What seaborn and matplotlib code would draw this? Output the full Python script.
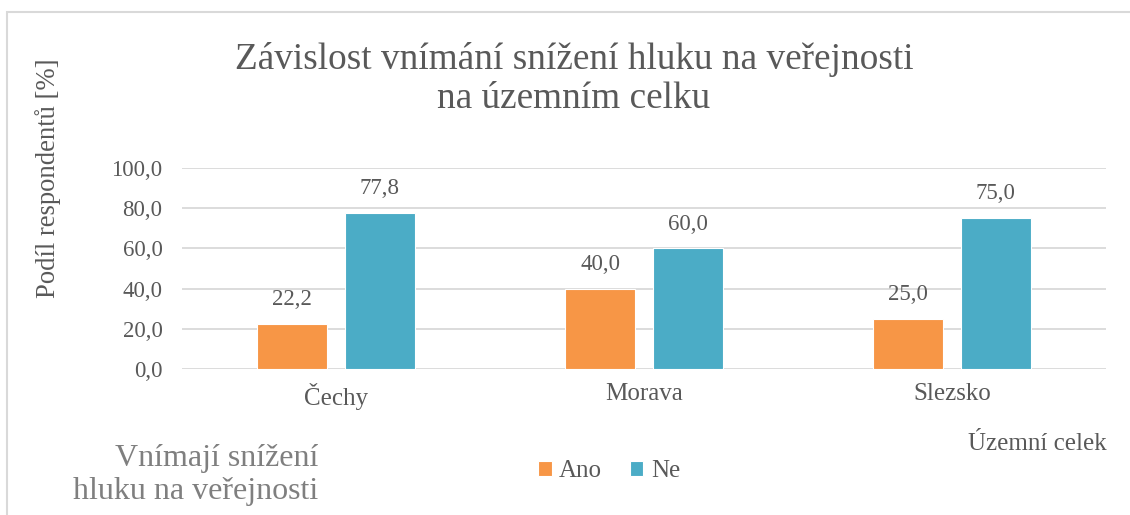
import matplotlib
matplotlib.use("Agg")
import pandas as pd
import seaborn as sns
import matplotlib.pyplot as plt
from matplotlib.patches import Rectangle

regions = ["Čechy", "Morava", "Slezsko"]
answers = ["Ano", "Ne"]
ano = [22.2, 40.0, 25.0]
ne = [77.8, 60.0, 75.0]
yticks = [0, 20, 40, 60, 80, 100]
colors = ["#F79646", "#4BACC6"]

df = pd.DataFrame({
    "region": regions * 2,
    "odpoved": [answers[0]] * 3 + [answers[1]] * 3,
    "podil": ano + ne,
})

sns.set_style("white")
plt.rcParams["font.family"] = ["Liberation Serif", "DejaVu Serif"]
grey = "#595959"
W, H = 1130, 515

fig = plt.figure(figsize=(11.3, 5.15), dpi=100)
ax = fig.add_axes([182 / W, 1 - 369 / H, (1106 - 182) / W, 201 / H])

sns.barplot(data=df, x="region", y="podil", hue="odpoved", palette=colors,
            saturation=1, width=0.57, gap=0.21, edgecolor="white",
            linewidth=0.8, ax=ax)

for cont in ax.containers:
    ax.bar_label(cont, labels=[f"{v:.1f}".replace(".", ",") for v in cont.datavalues],
                 padding=10, fontsize=16.5, color=grey)

ax.set_ylim(0, 100)
ax.set_yticks(yticks)
ax.set_yticklabels([f"{t:.1f}".replace(".", ",") for t in yticks])
ax.set_xlim(-0.5, 2.5)
ax.tick_params(axis="y", length=0, pad=14, labelsize=16.5, labelcolor=grey)
ax.tick_params(axis="x", length=0, pad=10, labelsize=18, labelcolor=grey)
ax.yaxis.grid(True, color="#D9D9D9", linewidth=1.3)
ax.set_axisbelow(True)
for s in ax.spines.values():
    s.set_visible(False)
ax.set_xlabel("")
ax.set_ylabel("")

handles, labels = ax.get_legend_handles_labels()
ax.get_legend().remove()
fig.legend(handles, labels, loc="center", bbox_to_anchor=(609 / W, 1 - 471 / H),
           ncol=2, frameon=False, fontsize=18, labelcolor=grey,
           handlelength=0.55, handleheight=0.55, handletextpad=0.3,
           columnspacing=1.1)

fig.text(574 / W, 1 - 79 / H, "Závislost vnímání snížení hluku na veřejnosti\nna územním celku",
         ha="center", va="center", fontsize=26.8, color=grey, linespacing=1.2)
fig.text(48 / W, 1 - 178 / H, "Podíl respondentů [%]", rotation=90,
         ha="center", va="center", fontsize=19.2, color=grey)
fig.text(1107 / W, 1 - 450 / H, "Územní celek", ha="right", va="baseline",
         fontsize=18, color=grey)
fig.text(318 / W, 1 - 475 / H, "Vnímají snížení\nhluku na veřejnosti", ha="right",
         va="center", fontsize=23, color="#7F7F7F", linespacing=1.2)

fig.patches.append(Rectangle((7 / W, -0.1), 1.2, 1.1 - 12 / H, transform=fig.transFigure,
                             fill=False, edgecolor="#D9D9D9", linewidth=1.5))

fig.savefig("out.png", dpi=100)
